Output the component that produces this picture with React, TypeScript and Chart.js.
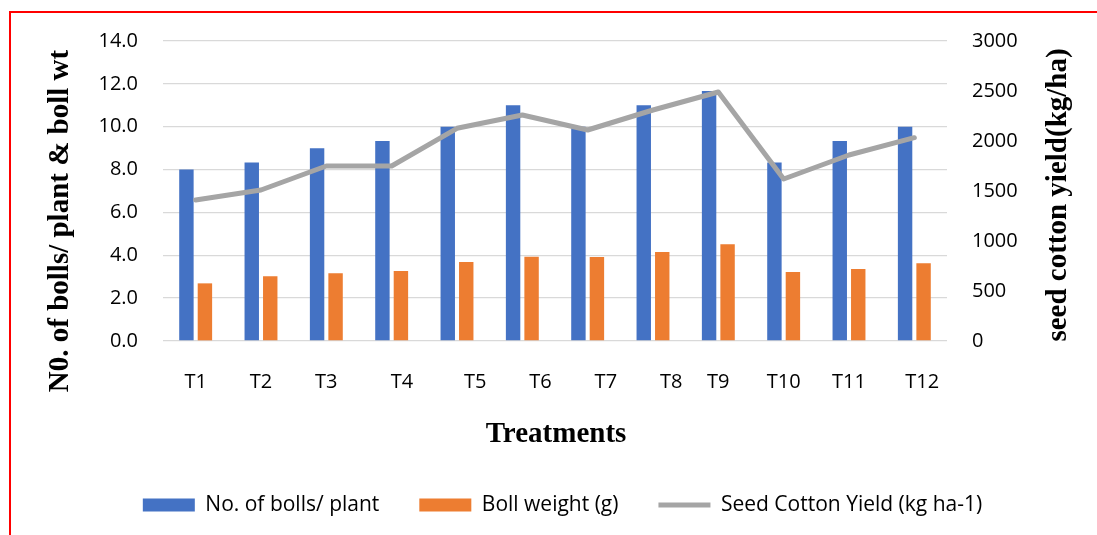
import React, { useEffect, useRef } from 'react';
import { Chart, registerables } from 'chart.js';

Chart.register(...registerables);

// ---- data ----
const categories = ['T1', 'T2', 'T3', 'T4', 'T5', 'T6', 'T7', 'T8', 'T9', 'T10', 'T11', 'T12'];
// tick labels as typed in the original (some carry leading spaces)
const tickLabels = ['T1', 'T2', 'T3', '    T4', '       T5', '       T6', '       T7', '       T8', 'T9', 'T10', 'T11', '   T12'];
const bollsPerPlant = [8.0, 8.33, 9.0, 9.33, 10.0, 11.0, 10.0, 11.0, 11.67, 8.33, 9.33, 10.0];
const bollWeight = [2.69, 3.02, 3.16, 3.27, 3.69, 3.93, 3.92, 4.15, 4.51, 3.22, 3.36, 3.63];
const seedCottonYield = [1410, 1510, 1750, 1750, 2127, 2260, 2110, 2310, 2490, 1620, 1860, 2033];

const seriesNames = ['No. of bolls/ plant', 'Boll weight (g)', 'Seed Cotton Yield (kg ha-1)'];
const leftTitle = 'N0. of bolls/ plant & boll wt';
const rightTitle = 'seed cotton yield(kg/ha)';
const xTitle = 'Treatments';

const BLUE = '#4472C4';
const ORANGE = '#ED7D31';
const GREY = '#A5A5A5';
const SANS = '"Open Sans", "Noto Sans", sans-serif';
const SERIF = '"Liberation Serif", "Times New Roman", serif';

const titlePlugin = {
  id: 'freeTitles',
  afterDraw(chart: any) {
    const { ctx, chartArea: a } = chart;
    const midY = (a.top + a.bottom) / 2;
    ctx.save();
    ctx.fillStyle = '#000';
    ctx.font = `bold 29px ${SERIF}`;
    ctx.textAlign = 'center';
    ctx.textBaseline = 'middle';
    ctx.fillText(xTitle, (a.left + a.right) / 2 + 1, a.bottom + 94);

    ctx.save();
    ctx.translate(a.left - 102, midY + 30);
    ctx.rotate(-Math.PI / 2);
    ctx.fillText(leftTitle, 0, 0);
    ctx.restore();

    ctx.save();
    ctx.translate(a.right + 112, midY + 4);
    ctx.rotate(-Math.PI / 2);
    ctx.fillText(rightTitle, 0, 0);
    ctx.restore();

    ctx.restore();
  },
};

export default function App() {
  const ref = useRef<HTMLCanvasElement | null>(null);

  useEffect(() => {
    if (!ref.current) return;
    const chart = new Chart(ref.current, {
      type: 'bar',
      data: {
        labels: categories,
        datasets: [
          {
            label: seriesNames[0],
            data: bollsPerPlant,
            backgroundColor: BLUE,
            borderWidth: 0,
            yAxisID: 'y',
            order: 1,
            pointStyle: 'rect',
            categoryPercentage: 0.566,
            barPercentage: 0.78,
          } as any,
          {
            label: seriesNames[1],
            data: bollWeight,
            backgroundColor: ORANGE,
            borderWidth: 0,
            yAxisID: 'y',
            order: 1,
            pointStyle: 'rect',
            categoryPercentage: 0.566,
            barPercentage: 0.78,
          } as any,
          {
            type: 'line',
            label: seriesNames[2],
            data: seedCottonYield,
            borderColor: GREY,
            backgroundColor: GREY,
            borderWidth: 5,
            borderCapStyle: 'round',
            borderJoinStyle: 'round',
            pointRadius: 0,
            pointHoverRadius: 0,
            pointStyle: 'line',
            tension: 0,
            yAxisID: 'y1',
            order: 0,
          } as any,
        ],
      },
      options: {
        responsive: true,
        maintainAspectRatio: false,
        animation: false,
        layout: { padding: { top: 41, left: 28, right: 0, bottom: 9.5 } },
        plugins: {
          title: { display: false },
          tooltip: { enabled: false },
          legend: {
            position: 'bottom',
            labels: {
              usePointStyle: true,
              pointStyleWidth: 52,
              boxHeight: 13,
              padding: 40,
              color: '#000',
              font: { family: SANS, size: 21 },
              sort: (a: any, b: any) => a.datasetIndex - b.datasetIndex,
            },
          },
        },
        scales: {
          x: {
            grid: { display: false },
            border: { display: false },
            ticks: {
              color: '#000',
              font: { family: SANS, size: 20 },
              padding: 21,
              maxRotation: 0,
              autoSkip: false,
              callback: (_v: any, i: number) => tickLabels[i],
            },
            afterFit: (s: any) => {
              s.height = 113.5;
            },
          },
          y: {
            position: 'left',
            min: 0,
            max: 14,
            grid: { color: '#D9D9D9', lineWidth: 1.3, drawTicks: false },
            border: { display: false },
            ticks: {
              stepSize: 2,
              color: '#000',
              font: { family: SANS, size: 20 },
              padding: 25,
              callback: (v: any) => Number(v).toFixed(1),
            },
            afterFit: (s: any) => {
              s.width = 135;
            },
          },
          y1: {
            position: 'right',
            min: 0,
            max: 3000,
            grid: { display: false, drawTicks: false },
            border: { display: false },
            ticks: {
              stepSize: 500,
              color: '#000',
              font: { family: SANS, size: 20 },
              padding: 25,
              callback: (v: any) => String(v),
            },
            afterFit: (s: any) => {
              s.width = 150;
            },
          },
        },
      },
      plugins: [titlePlugin],
    });
    return () => chart.destroy();
  }, []);

  return (
    <div
      style={{
        position: 'fixed',
        left: 0,
        top: 0,
        width: 1097,
        height: 535,
        background: '#fff',
        overflow: 'hidden',
      }}
    >
      <canvas ref={ref} />
      <div
        style={{
          position: 'absolute',
          left: 9,
          top: 11,
          right: -10,
          bottom: -10,
          borderTop: '2px solid #FF0000',
          borderLeft: '2px solid #FF0000',
          pointerEvents: 'none',
        }}
      />
    </div>
  );
}
